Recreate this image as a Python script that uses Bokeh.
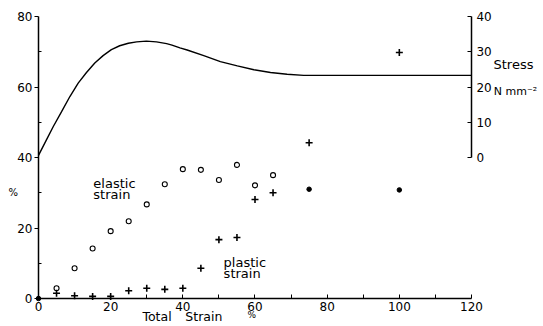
from bokeh.plotting import figure
from bokeh.models import Range1d, LinearAxis, FixedTicker, Label
from bokeh.embed import file_html
from bokeh.resources import INLINE

# ---- data ----
stress_x = [0, 2.2, 4.1, 6.4, 8.7, 11.0, 13.3, 15.6, 17.9, 20.2, 22.5, 24.9, 27.2, 29.9,
            32.7, 35.5, 37.0, 39.2, 41.2, 45.8, 50.4, 55.1, 59.7, 64.3, 68.9, 73.5, 78.2, 120]
stress_y = [0.6, 5.0, 8.8, 13.0, 17.3, 21.1, 24.1, 26.8, 28.9, 30.6, 31.7, 32.4, 32.8, 33.0,
            32.8, 32.3, 31.9, 31.1, 30.5, 28.9, 27.2, 26.0, 24.9, 24.1, 23.6, 23.3, 23.3, 23.3]

elastic_x = [5, 10, 15, 20, 25, 30, 35, 40, 45, 50, 55, 60, 65]
elastic_y = [2.9, 8.6, 14.2, 19.1, 21.9, 26.7, 32.4, 36.7, 36.5, 33.6, 37.9, 32.1, 35.0]

plastic_x = [5, 10, 15, 20, 25, 30, 35, 40, 45, 50, 55, 60, 65, 75, 100]
plastic_y = [1.5, 0.8, 0.6, 0.6, 2.2, 2.9, 2.6, 2.9, 8.6, 16.7, 17.3, 28.1, 30.0, 44.2, 69.8]

total_x = [0, 75, 100]
total_y = [0, 31.0, 30.8]

x_ticks = [0, 20, 40, 60, 80, 100, 120]
x_minor = [10, 30, 50, 70, 90, 110]
y_ticks = [0, 20, 40, 60, 80]
y_minor = [10, 30, 50, 70]
stress_ticks = [0, 10, 20, 30, 40]

FONT = "DejaVu Sans"

p = figure(width=543, height=326,
           x_range=Range1d(-10.531, 139.954), y_range=Range1d(-7.943, 84.539),
           output_backend="svg", toolbar_location=None,
           min_border=0, min_border_left=0, min_border_right=0,
           min_border_top=0, min_border_bottom=0)
p.title.visible = False
p.extra_y_ranges = {"stress": Range1d(-47.943, 44.539)}
p.outline_line_color = None
p.grid.visible = False
p.background_fill_color = "white"

def style(ax):
    ax.axis_line_width = 1.5
    ax.axis_line_color = "black"
    ax.major_tick_line_color = "black"
    ax.minor_tick_line_color = "black"
    ax.major_label_text_font = FONT
    ax.major_label_text_font_size = "12px"
    ax.major_label_text_color = "black"

# bottom axis
xa = p.xaxis[0]
xa.fixed_location = 0
xa.bounds = (0, 120)
xa.ticker = FixedTicker(ticks=x_ticks, minor_ticks=x_minor)
xa.major_tick_in = 4
xa.major_tick_out = 0
xa.minor_tick_in = 4
xa.minor_tick_out = 0
xa.major_label_standoff = 3
style(xa)

# left axis
ya = p.yaxis[0]
ya.fixed_location = 0
ya.bounds = (0, 80)
ya.ticker = FixedTicker(ticks=y_ticks, minor_ticks=y_minor)
ya.major_tick_in = 0
ya.major_tick_out = 4
ya.minor_tick_in = 3
ya.minor_tick_out = 0
ya.major_label_standoff = 2
style(ya)

# right stress axis
ra = LinearAxis(y_range_name="stress", ticker=FixedTicker(ticks=stress_ticks), bounds=(0, 40))
ra.fixed_location = 120
ra.major_tick_in = 4
ra.major_tick_out = 0
ra.major_label_standoff = 5
style(ra)
ra.minor_tick_line_color = None
p.add_layout(ra, "right")

# stress curve
p.line(stress_x, stress_y, y_range_name="stress", line_color="black", line_width=1.4)

# points
p.scatter(elastic_x, elastic_y, marker="circle", size=5, fill_color=None,
          line_color="black", line_width=1.1)
p.scatter(plastic_x, plastic_y, marker="cross", size=7, line_color="black", line_width=1.6)
p.scatter(total_x, total_y, marker="circle", size=4.5, fill_color="black", line_color="black")

def lab(x, y, t, size="13px"):
    p.add_layout(Label(x=x, y=y, text=t, text_font=FONT, text_font_size=size,
                       text_color="black", text_align="left", text_baseline="middle"))

lab(15.2, 32.6, "elastic")
lab(15.2, 29.5, "strain")
lab(51.3, 10.2, "plastic")
lab(51.3, 7.1, "strain")
lab(-8.3, 30.2, "%", size="10px")
lab(28.8, -5.0, "Total", size="12.5px")
lab(40.7, -5.0, "Strain", size="12.5px")
lab(57.9, -4.8, "%", size="9px")
lab(126.1, 66.4, "Stress", size="13px")
lab(126.2, 58.7, "N mm\u207b\u00b2", size="11px")

open("out.html", "w").write(file_html(p, INLINE))
